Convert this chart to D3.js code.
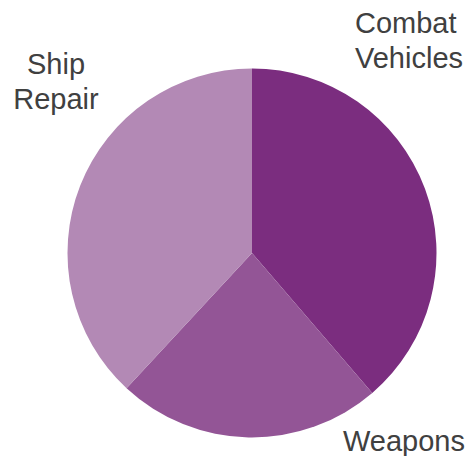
<!DOCTYPE html>
<html>
<head>
<meta charset="utf-8">
<script src="https://cdn.jsdelivr.net/npm/d3@7"></script>
<style>
  html, body { margin: 0; padding: 0; background: #ffffff; }
  svg { display: block; }
  text { font-family: "Liberation Sans", Arial, sans-serif; fill: #404040; }
</style>
</head>
<body>
<svg id="chart" width="469" height="456"></svg>
<script>
// Share of spending by category (percent)
const categories = ["Combat Vehicles", "Weapons", "Ship Repair"];
const values = [38.7, 23.2, 38.1];
const colors = ["#7b2d7f", "#935596", "#b389b5"];
// Label lines for each category
const labelLines = [["Combat", "Vehicles"], ["Weapons"], ["Ship", "Repair"]];

const width = 469, height = 456;
const cx = 252, cy = 253, radius = 184.5;

const svg = d3.select("#chart");
const g = svg.append("g").attr("transform", `translate(${cx},${cy})`);

const pie = d3.pie().sort(null).value(d => d.value);
const arc = d3.arc().innerRadius(0).outerRadius(radius);

const data = categories.map((c, i) => ({ name: c, value: values[i], color: colors[i], lines: labelLines[i] }));
const arcs = pie(data);

g.selectAll("path.slice")
  .data(arcs)
  .join("path")
  .attr("class", "slice")
  .attr("d", arc)
  .attr("fill", d => d.data.color);

// Outside labels placed beyond each slice
const labelPos = {
  "Combat Vehicles": { x: 355, y: 33, anchor: "start" },
  "Weapons": { x: 343, y: 451, anchor: "start" },
  "Ship Repair": { x: 56, y: 74, anchor: "middle" }
};
const lineHeight = 35;

arcs.forEach(a => {
  const p = labelPos[a.data.name];
  const t = svg.append("text")
    .attr("x", p.x)
    .attr("y", p.y)
    .attr("text-anchor", p.anchor)
    .style("font-size", "29px");
  a.data.lines.forEach((line, i) => {
    t.append("tspan")
      .attr("x", p.x)
      .attr("y", p.y + i * lineHeight)
      .text(line);
  });
});
</script>
</body>
</html>
